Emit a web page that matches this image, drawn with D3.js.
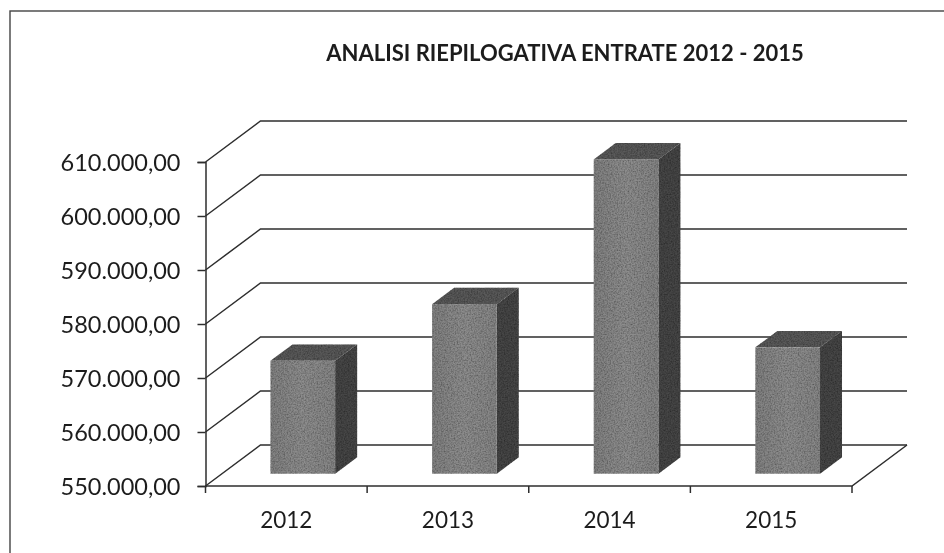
<!DOCTYPE html>
<html>
<head>
<meta charset="utf-8">
<script src="https://cdn.jsdelivr.net/npm/d3@7"></script>
<style>
html, body { margin: 0; padding: 0; background: #fff; }
svg { display: block; }
text { font-family: Lato, "Open Sans", sans-serif; fill: #1c1c1c; }
</style>
</head>
<body>
<svg id="chart" width="944" height="553"></svg>
<script>
// chart data
const years = ["2012", "2013", "2014", "2015"];
const entrate = [570900, 581400, 608200, 573400];
const yTicks = [550000, 560000, 570000, 580000, 590000, 600000, 610000];
const chartTitle = "ANALISI RIEPILOGATIVA ENTRATE 2012 - 2015";

const svg = d3.select("#chart");

// front plane of the 3d box
const x = d3.scaleBand().domain(years).range([205.5, 852]).paddingInner(0.6).paddingOuter(0.3);
const y = d3.scaleLinear().domain([550000, 610000]).range([486, 162]);

// depth goes up and to the right, 0 = front, 1 = back wall
const depthX = d3.scaleLinear().domain([0, 1]).range([0, 55]);
const depthY = d3.scaleLinear().domain([0, 1]).range([0, -41]);
const barFront = 0.3, barBack = 0.7;

const format = d3.formatLocale({ decimal: ",", thousands: ".", grouping: [3], currency: ["", ""] }).format(",.2f");

// scan grain for the bars
const defs = svg.append("defs");
const grain = defs.append("filter").attr("id", "grain").attr("x", "0%").attr("y", "0%").attr("width", "100%").attr("height", "100%");
grain.append("feTurbulence").attr("type", "fractalNoise").attr("baseFrequency", 0.7).attr("numOctaves", 2).attr("seed", 4).attr("result", "n");
grain.append("feColorMatrix").attr("in", "n").attr("type", "matrix")
    .attr("values", "0 0 0 0 0  0 0 0 0 0  0 0 0 0 0  1.1 0 0 0 -0.36").attr("result", "d");
grain.append("feComposite").attr("in", "d").attr("in2", "SourceAlpha").attr("operator", "in").attr("result", "dd");
grain.append("feMerge").selectAll("feMergeNode").data(["SourceGraphic", "dd"]).enter().append("feMergeNode").attr("in", d => d);

const soft = defs.append("filter").attr("id", "soft");
soft.append("feGaussianBlur").attr("stdDeviation", 0.4);

const faceGrad = defs.append("linearGradient").attr("id", "face");
faceGrad.append("stop").attr("offset", "0%").attr("stop-color", "#828282");
faceGrad.append("stop").attr("offset", "50%").attr("stop-color", "#8e8e8e");
faceGrad.append("stop").attr("offset", "100%").attr("stop-color", "#868686");

const root = svg.append("g").attr("filter", "url(#soft)");

// outer frame, runs off the page on the right and at the bottom
root.append("rect")
    .attr("x", 10).attr("y", 11).attr("width", 1000).attr("height", 700)
    .attr("fill", "none").attr("stroke", "#444").attr("stroke-width", 1.4);

root.append("text")
    .attr("x", 565).attr("y", 61)
    .attr("text-anchor", "middle")
    .attr("font-size", 22).attr("font-weight", 700)
    .text(chartTitle);

// gridlines: side wall + back wall
const grid = d3.line();
root.append("g").selectAll("path").data(yTicks).enter().append("path")
    .attr("d", d => grid([
        [x.range()[0], y(d)],
        [x.range()[0] + depthX(1), y(d) + depthY(1)],
        [x.range()[1] + depthX(1), y(d) + depthY(1)]
    ]))
    .attr("fill", "none").attr("stroke", "#2e2e2e").attr("stroke-width", 1.5);

// floor, front and right edge
root.append("path")
    .attr("d", grid([
        [x.range()[0], y(550000)],
        [x.range()[1], y(550000)],
        [x.range()[1] + depthX(1), y(550000) + depthY(1)]
    ]))
    .attr("fill", "none").attr("stroke", "#2e2e2e").attr("stroke-width", 1.5);

// axes
const yAxis = d3.axisLeft(y).tickValues(yTicks).tickFormat(format).tickSize(8).tickPadding(17);
const xAxis = d3.axisBottom(x).tickSize(0).tickPadding(26);

const gy = root.append("g").attr("transform", "translate(" + x.range()[0] + ",0)").call(yAxis);
gy.selectAll("text").attr("font-size", 23.5).attr("dy", "0.36em");
gy.select(".domain").attr("stroke", "#2e2e2e").attr("stroke-width", 1.5);
gy.selectAll("line").attr("stroke", "#2e2e2e").attr("stroke-width", 1.5);

const gx = root.append("g").attr("transform", "translate(0," + y(550000) + ")").call(xAxis);
gx.selectAll("text").attr("font-size", 22.5);
gx.select(".domain").remove();
gx.selectAll(".tick").attr("transform", d => "translate(" + (x(d) + x.bandwidth() / 2) + ",0)");

// category separators on the floor edge
const step = x.step();
root.append("g").selectAll("line").data(d3.range(years.length + 1)).enter().append("line")
    .attr("x1", i => x.range()[0] + i * step).attr("x2", i => x.range()[0] + i * step)
    .attr("y1", y(550000)).attr("y2", y(550000) + 7)
    .attr("stroke", "#2e2e2e").attr("stroke-width", 1.5);

// bars: right side, top, front
const bars = root.append("g").attr("filter", "url(#grain)").selectAll("g")
    .data(years.map((year, i) => ({ year, value: entrate[i] })))
    .enter().append("g");

const poly = pts => pts.map(p => p.join(",")).join(" ");
const fx = d => x(d.year) + depthX(barFront);
const fy = v => y(v) + depthY(barFront);
const bx = d => x(d.year) + depthX(barBack);
const by = v => y(v) + depthY(barBack);
const w = x.bandwidth();

bars.append("polygon")
    .attr("points", d => poly([
        [fx(d) + w, fy(d.value)], [bx(d) + w, by(d.value)],
        [bx(d) + w, by(550000)], [fx(d) + w, fy(550000)]
    ]))
    .attr("fill", "#464646");

bars.append("polygon")
    .attr("points", d => poly([
        [fx(d), fy(d.value)], [bx(d), by(d.value)],
        [bx(d) + w, by(d.value)], [fx(d) + w, fy(d.value)]
    ]))
    .attr("fill", "#5a5a5a");

bars.append("rect")
    .attr("x", d => fx(d)).attr("y", d => fy(d.value))
    .attr("width", w).attr("height", d => fy(550000) - fy(d.value))
    .attr("fill", "url(#face)");
</script>
</body>
</html>
